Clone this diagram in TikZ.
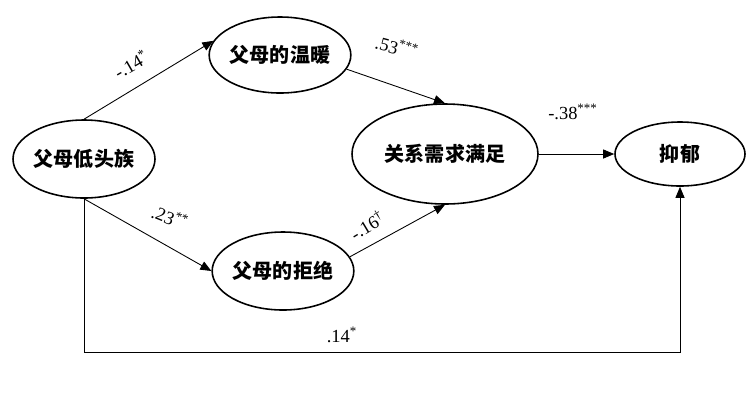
\documentclass[tikz,border=0pt]{standalone}
\usepackage{fontspec}
\setmainfont{Liberation Serif}
\newfontfamily\cjk{Noto Sans CJK SC}
\usetikzlibrary{shapes.geometric,arrows.meta}

\begin{document}
\begin{tikzpicture}[
    var/.style={draw, ellipse, line width=0.9pt, inner sep=0pt, font=\cjk\bfseries\fontsize{11.4}{13}\selectfont},
    path/.style={-{Triangle[length=0.22cm, width=0.18cm]}, line width=0.5pt},
    coef/.style={inner sep=0pt, font=\fontsize{10.5}{12}\selectfont}
  ]
    \useasboundingbox (0,0) rectangle (14.98,-8.1);

    \node[var, minimum width=2.84cm, minimum height=1.56cm] (low) at (1.68,-3.18) {父母低头族};
    \node[var, minimum width=2.52cm, minimum height=1.52cm] (warm) at (5.6,-1.1) {父母的温暖};
    \node[var, minimum width=2.54cm, minimum height=1.56cm] (rej) at (5.66,-5.42) {父母的拒绝};
    \node[var, minimum width=3.72cm, minimum height=2.0cm] (rel) at (8.9,-3.08) {关系需求满足};
    \node[var, minimum width=2.6cm, minimum height=1.28cm] (dep) at (13.6,-3.08) {抑郁};

    \draw[path] (low.north) -- (warm.168);
    \draw[path] (low.south) -- (rej.west);
    \draw[path] (warm.-12) -- (rel.north);
    \draw[path] (rej.12) -- (rel.south);
    \draw[path] (rel.east) -- (dep.west);
    \draw[path] (low.south) -- ++(0,-3.08) -| (dep.south);

    \node[coef, rotate=30] (c1) at (2.62,-1.28) {-.14\textsuperscript{*}};
    \node[coef, rotate=-15] (c2) at (7.94,-0.94) {.53\textsuperscript{***}};
    \node[coef, rotate=-22] (c3) at (3.4,-4.34) {.23\textsuperscript{**}};
    \node[coef, rotate=31] (c4) at (7.34,-4.5) {-.16\textsuperscript{†}};
    \node[coef] (c5) at (11.46,-2.24) {-.38\textsuperscript{***}};
    \node[coef] (c6) at (6.84,-6.7) {.14\textsuperscript{*}};
  \end{tikzpicture}
\end{document}
